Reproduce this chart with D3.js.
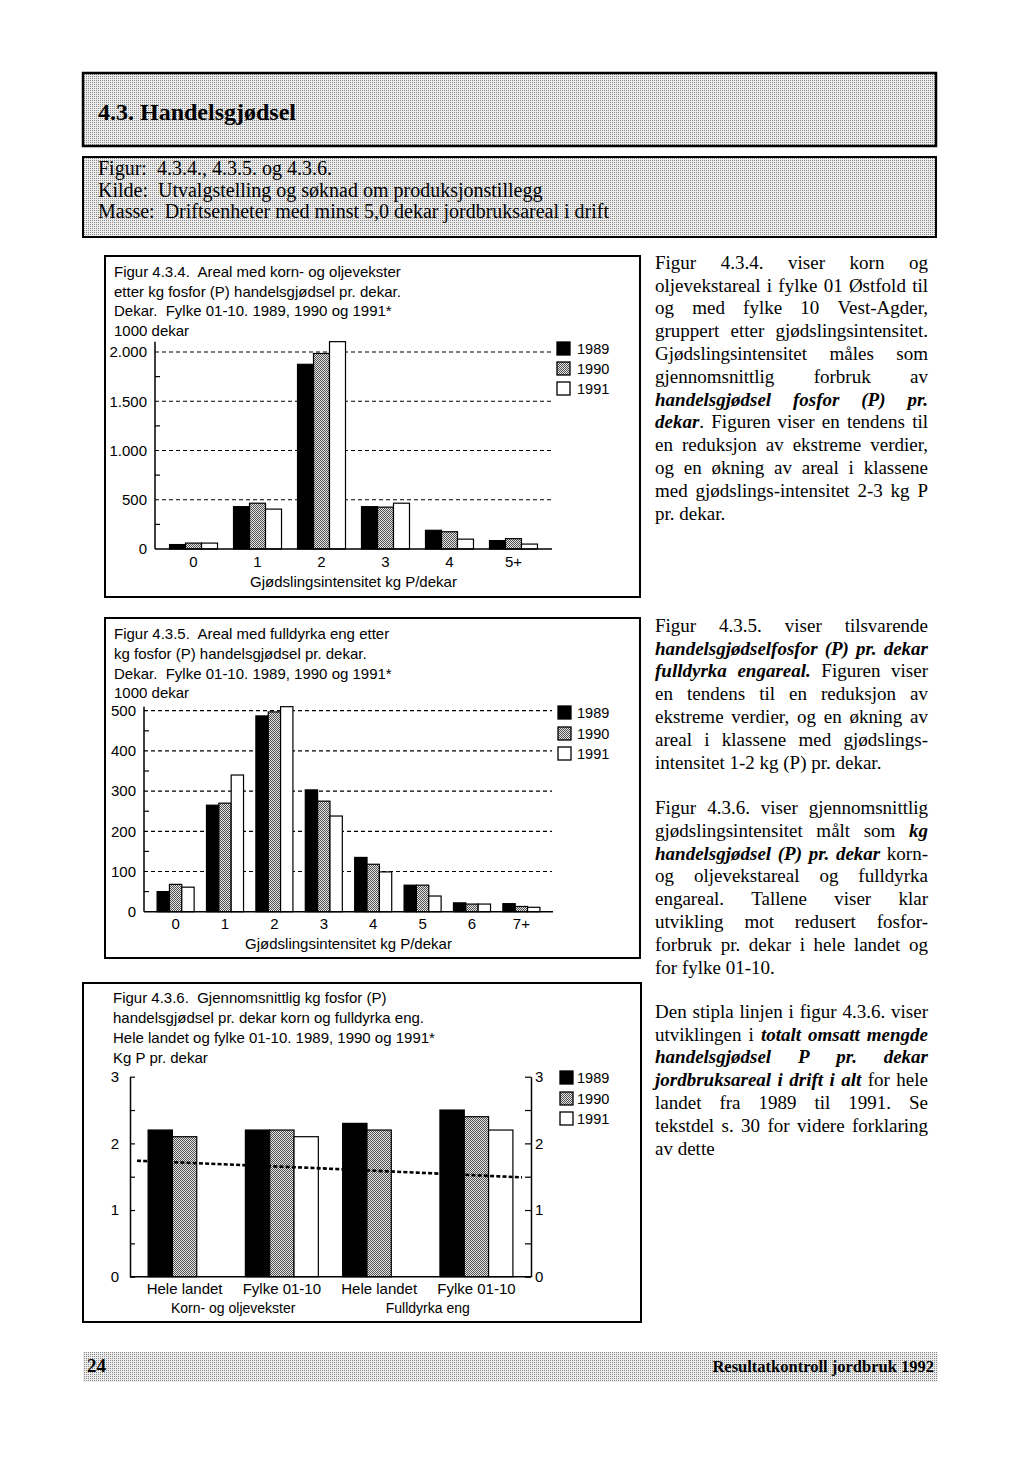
<!DOCTYPE html>
<html><head><meta charset="utf-8">
<script src="https://cdn.jsdelivr.net/npm/d3@7"></script>
<style>
body{margin:0;background:#fff}
svg{display:block}
.sans{font-family:"Liberation Sans",Arial,sans-serif}
.serif{font-family:"Liberation Serif","Times New Roman",serif}
</style>
</head><body>
<svg id="page" width="1024" height="1464"></svg>
<script>
// ---------------- DATA ----------------
const years = ["1989", "1990", "1991"];

// Figur 4.3.4 (1000 dekar), korn- og oljevekster
const cat1 = ["0", "1", "2", "3", "4", "5+"];
const fig1_1989 = [45, 430, 1875, 430, 190, 85];
const fig1_1990 = [60, 465, 1985, 425, 175, 105];
const fig1_1991 = [60, 405, 2105, 465, 100, 50];
const fig1Ticks = [0, 500, 1000, 1500, 2000];
const fig1TickLabels = ["0", "500", "1.000", "1.500", "2.000"];
const fig1Minor = [250, 750, 1250, 1750];

// Figur 4.3.5 (1000 dekar), fulldyrka eng
const cat2 = ["0", "1", "2", "3", "4", "5", "6", "7+"];
const fig2_1989 = [50, 265, 487, 303, 135, 66, 22, 20];
const fig2_1990 = [68, 270, 497, 275, 118, 66, 19, 13];
const fig2_1991 = [61, 340, 510, 238, 99, 39, 19, 11];
const fig2Ticks = [0, 100, 200, 300, 400, 500];
const fig2TickLabels = ["0", "100", "200", "300", "400", "500"];
const fig2Minor = [50, 150, 250, 350, 450];

// Figur 4.3.6 (kg P pr. dekar)
const cat3 = ["HL-korn", "F-korn", "HL-eng", "F-eng"];
const cat3Labels = ["Hele landet", "Fylke 01-10", "Hele landet", "Fylke 01-10"];
const cat3Groups = ["Korn- og oljevekster", "Fulldyrka eng"];
const fig3_1989 = [2.2, 2.2, 2.3, 2.5];
const fig3_1990 = [2.1, 2.2, 2.2, 2.4];
const fig3_1991 = [null, 2.1, null, 2.2];
const fig3Ticks = [0, 0.5, 1, 1.5, 2, 2.5, 3];
const fig3Line = [1.74, 1.62, 1.49]; // totalt omsatt P pr. dekar, 1989-1991

// ---------------- SETUP ----------------
const svg = d3.select("#page");
const defs = svg.append("defs");
function pat(id, bg, fg) {
  const p = defs.append("pattern").attr("id", id).attr("width", 2).attr("height", 2)
    .attr("patternUnits", "userSpaceOnUse");
  p.append("rect").attr("width", 2).attr("height", 2).attr("fill", bg);
  p.append("rect").attr("width", 1).attr("height", 1).attr("fill", fg);
  if (id === "barGray") p.append("rect").attr("x", 1).attr("y", 1).attr("width", 1).attr("height", 1).attr("fill", fg);
}
pat("barGray", "#e6e6e6", "#505050");
pat("boxGray", "#ececec", "#8a8a8a");
const fills = ["#000", "url(#barGray)", "#fff"];

// ---------------- HEADER ----------------
svg.append("rect").attr("x", 83).attr("y", 73).attr("width", 853).attr("height", 73)
  .attr("fill", "url(#boxGray)").attr("stroke", "#000").attr("stroke-width", 2.5);
svg.append("text").attr("class", "serif").attr("x", 98).attr("y", 120)
  .attr("font-size", 24).attr("font-weight", "bold").text("4.3. Handelsgjødsel");

svg.append("rect").attr("x", 83).attr("y", 157).attr("width", 853).attr("height", 80)
  .attr("fill", "url(#boxGray)").attr("stroke", "#000").attr("stroke-width", 2);
const hdrLines = ["Figur:  4.3.4., 4.3.5. og 4.3.6.",
  "Kilde:  Utvalgstelling og søknad om produksjonstillegg",
  "Masse:  Driftsenheter med minst 5,0 dekar jordbruksareal i drift"];
hdrLines.forEach((t, i) => svg.append("text").attr("class", "serif").attr("x", 98)
  .attr("y", 175 + i * 21.5).attr("font-size", 20).attr("xml:space", "preserve")
  .style("white-space", "pre").text(t));

// ---------------- FOOTER ----------------
svg.append("rect").attr("x", 83).attr("y", 1352).attr("width", 855).attr("height", 30)
  .attr("fill", "url(#boxGray)");
svg.append("text").attr("class", "serif").attr("x", 87).attr("y", 1372).attr("font-size", 19)
  .attr("font-weight", "bold").text("24");
svg.append("text").attr("class", "serif").attr("x", 934).attr("y", 1372).attr("font-size", 16.5)
  .attr("font-weight", "bold").attr("text-anchor", "end")
  .text("Resultatkontroll jordbruk 1992");

// ---------------- FRAMES ----------------
function frame(x0, y0, x1, y1) {
  svg.append("rect").attr("x", x0).attr("y", y0).attr("width", x1 - x0).attr("height", y1 - y0)
    .attr("fill", "none").attr("stroke", "#000").attr("stroke-width", 2);
}
frame(105, 256, 640, 597);
frame(105, 618, 640, 958);
frame(83, 983, 641, 1322);

// ---------------- HELPERS ----------------
function titleLines(lines, x, ys) {
  lines.forEach((t, i) => svg.append("text").attr("class", "sans").attr("x", x).attr("y", ys[i])
    .attr("font-size", 15).attr("xml:space", "preserve").style("white-space", "pre").text(t));
}
function legend(x, tops, tx) {
  years.forEach((yr, i) => {
    svg.append("rect").attr("x", x).attr("y", tops[i]).attr("width", 13).attr("height", 13)
      .attr("fill", fills[i]).attr("stroke", "#000").attr("stroke-width", 1.3);
    svg.append("text").attr("class", "sans").attr("x", tx).attr("y", tops[i] + 11.5)
      .attr("font-size", 14.5).text(yr);
  });
}

function histo(cfg) {
  const g = svg.append("g");
  const x = d3.scaleBand().domain(cfg.cats).range([cfg.ax, cfg.xe])
    .paddingInner(0.25).paddingOuter(cfg.po);
  const xs = d3.scaleBand().domain(years).range([0, x.bandwidth()]);
  const y = d3.scaleLinear().domain([0, cfg.ref]).range([cfg.y0, cfg.yRef]);
  const seriesArr = cfg.series;
  const ymax = d3.max(seriesArr.flat());
  // grid
  g.selectAll(".grid").data(cfg.ticks.filter(d => d > 0)).join("line")
    .attr("x1", cfg.ax).attr("x2", cfg.xe - 1).attr("y1", d => y(d)).attr("y2", d => y(d))
    .attr("stroke", "#000").attr("stroke-width", 1.2).attr("stroke-dasharray", "4,3");
  // bars
  years.forEach((yr, si) => {
    g.selectAll(".b" + si).data(cfg.cats.map((c, i) => ({ c, v: seriesArr[si][i] }))).join("rect")
      .attr("x", d => x(d.c) + xs(yr)).attr("width", xs.bandwidth())
      .attr("y", d => y(d.v)).attr("height", d => y(0) - y(d.v))
      .attr("fill", fills[si]).attr("stroke", "#000").attr("stroke-width", 1.2);
  });
  // spine + baseline
  g.append("line").attr("x1", cfg.ax).attr("x2", cfg.ax).attr("y1", y(0)).attr("y2", y(ymax))
    .attr("stroke", "#000").attr("stroke-width", 1.5);
  g.append("line").attr("x1", cfg.ax).attr("x2", cfg.xe).attr("y1", y(0)).attr("y2", y(0))
    .attr("stroke", "#000").attr("stroke-width", 1.5);
  g.selectAll(".minor").data(cfg.minor).join("line")
    .attr("x1", cfg.ax).attr("x2", cfg.ax + 5).attr("y1", d => y(d)).attr("y2", d => y(d))
    .attr("stroke", "#000").attr("stroke-width", 1.2);
  // y labels
  const ya = g.append("g").attr("transform", `translate(${cfg.ax},0)`)
    .call(d3.axisLeft(y).tickValues(cfg.ticks).tickFormat((d, i) => cfg.tickLabels[i]).tickSize(0).tickPadding(8));
  ya.select(".domain").remove();
  ya.selectAll("text").attr("font-family", "Liberation Sans, Arial, sans-serif").attr("font-size", 15).attr("fill", "#000");
  // x labels
  const xa = g.append("g").attr("transform", `translate(0,${cfg.y0})`)
    .call(d3.axisBottom(x).tickSize(0).tickPadding(7));
  xa.select(".domain").remove();
  xa.selectAll("text").attr("font-family", "Liberation Sans, Arial, sans-serif").attr("font-size", 15).attr("fill", "#000");
  g.append("text").attr("class", "sans").attr("x", (cfg.ax + cfg.xe) / 2).attr("y", cfg.titleY)
    .attr("text-anchor", "middle").attr("font-size", 15).text("Gjødslingsintensitet kg P/dekar");
}

// ---------------- FIGUR 4.3.4 ----------------
titleLines(["Figur 4.3.4.  Areal med korn- og oljevekster",
  "etter kg fosfor (P) handelsgjødsel pr. dekar.",
  "Dekar.  Fylke 01-10. 1989, 1990 og 1991*",
  "1000 dekar"], 114, [276.7, 296.5, 316, 335.5]);
histo({ cats: cat1, series: [fig1_1989, fig1_1990, fig1_1991], ax: 155, xe: 552, po: 0.227,
  y0: 549, ref: 2000, yRef: 352, ticks: fig1Ticks, tickLabels: fig1TickLabels, minor: fig1Minor, titleY: 587 });
legend(557, [342, 362, 382], 577);

// ---------------- FIGUR 4.3.5 ----------------
titleLines(["Figur 4.3.5.  Areal med fulldyrka eng etter",
  "kg fosfor (P) handelsgjødsel pr. dekar.",
  "Dekar.  Fylke 01-10. 1989, 1990 og 1991*",
  "1000 dekar"], 114, [639, 659, 678.5, 698]);
histo({ cats: cat2, series: [fig2_1989, fig2_1990, fig2_1991], ax: 144, xe: 553, po: 0.265,
  y0: 911.7, ref: 500, yRef: 710.7, ticks: fig2Ticks, tickLabels: fig2TickLabels, minor: fig2Minor, titleY: 948.5 });
legend(558, [706, 727, 747], 577);

// ---------------- FIGUR 4.3.6 ----------------
titleLines(["Figur 4.3.6.  Gjennomsnittlig kg fosfor (P)",
  "handelsgjødsel pr. dekar korn og fulldyrka eng.",
  "Hele landet og fylke 01-10. 1989, 1990 og 1991*",
  "Kg P pr. dekar"], 113, [1003, 1023, 1043, 1063]);
(function () {
  const ax = 130, axR = 531, y0 = 1276.7;
  const g = svg.append("g");
  const x = d3.scaleBand().domain(cat3).range([ax, axR]).paddingInner(0.25).paddingOuter(0.186);
  const xs = d3.scaleBand().domain(years).range([0, x.bandwidth()]);
  const y = d3.scaleLinear().domain([0, 3]).range([y0, 1076.7]);
  const ser = [fig3_1989, fig3_1990, fig3_1991];
  years.forEach((yr, si) => {
    g.selectAll(".b" + si).data(cat3.map((c, i) => ({ c, v: ser[si][i] })).filter(d => d.v != null))
      .join("rect")
      .attr("x", d => x(d.c) + xs(yr)).attr("width", xs.bandwidth())
      .attr("y", d => y(d.v)).attr("height", d => y(0) - y(d.v))
      .attr("fill", fills[si]).attr("stroke", "#000").attr("stroke-width", 1.2);
  });
  // dotted line
  const xl = d3.scalePoint().domain(years).range([137, 522]);
  g.append("path").datum(fig3Line)
    .attr("d", d3.line().x((d, i) => xl(years[i])).y(d => y(d)))
    .attr("fill", "none").attr("stroke", "#000").attr("stroke-width", 2.6).attr("stroke-dasharray", "4,2.2");
  g.append("line").attr("x1", ax).attr("x2", axR).attr("y1", y0).attr("y2", y0).attr("stroke", "#000").attr("stroke-width", 1.5);
  const fmt = d => Number.isInteger(d) ? d : "";
  const la = g.append("g").attr("transform", `translate(${ax},0)`)
    .call(d3.axisLeft(y).tickValues(fig3Ticks).tickFormat(fmt).tickSizeInner(-5).tickSizeOuter(0).tickPadding(11));
  const ra = g.append("g").attr("transform", `translate(${axR},0)`)
    .call(d3.axisRight(y).tickValues(fig3Ticks).tickFormat(fmt).tickSizeInner(-6).tickSizeOuter(0).tickPadding(4));
  [la, ra].forEach(a => {
    a.select(".domain").attr("stroke-width", 1.5);
    a.selectAll("line").attr("stroke-width", 1.2);
    a.selectAll("text").attr("font-family", "Liberation Sans, Arial, sans-serif").attr("font-size", 15).attr("fill", "#000");
  });
  const xa = g.append("g").attr("transform", `translate(0,${y0})`)
    .call(d3.axisBottom(x).tickFormat((d, i) => cat3Labels[i]).tickSize(0).tickPadding(7));
  xa.select(".domain").remove();
  xa.selectAll("text").attr("font-family", "Liberation Sans, Arial, sans-serif").attr("font-size", 15).attr("fill", "#000");
  cat3Groups.forEach((t, i) => {
    const cx = (x(cat3[2 * i]) + x(cat3[2 * i + 1]) + x.bandwidth()) / 2;
    g.append("text").attr("class", "sans").attr("x", cx).attr("y", 1313).attr("text-anchor", "middle")
      .attr("font-size", 14).text(t);
  });
  legend(560, [1071, 1092, 1112], 577);
})();

// ---------------- RIGHT COLUMN TEXT ----------------
const colX = 655, colW = 273, lh = 22.8;
function tokens(segs) {
  const out = []; let cur = null;
  segs.forEach(([t, s]) => {
    t.split(/( +)/).forEach(p => {
      if (p === "") return;
      if (/^ +$/.test(p)) { cur = null; return; }
      if (!cur) { cur = []; out.push(cur); }
      cur.push({ t: p, s });
    });
  });
  return out;
}
function para(lines, yc) {
  lines.forEach((segs, i) => {
    const ws = tokens(segs);
    const y = yc + i * lh + 6;
    const els = ws.map(w => {
      const t = svg.append("text").attr("class", "serif").attr("y", y).attr("font-size", 19);
      w.forEach(p => t.append("tspan").text(p.t)
        .attr("font-weight", p.s === "b" ? "bold" : null).attr("font-style", p.s === "b" ? "italic" : null));
      return t;
    });
    const wd = els.map(e => e.node().getComputedTextLength());
    const last = i === lines.length - 1;
    const gap = (last || ws.length < 2) ? 4.75 : (colW - d3.sum(wd)) / (ws.length - 1);
    let xx = colX;
    els.forEach((e, j) => { e.attr("x", xx); xx += wd[j] + gap; });
  });
}
const R = t => [t, "r"], B = t => [t, "b"];
para([
  [R("Figur 4.3.4. viser korn og")],
  [R("oljevekstareal i fylke 01 Østfold til")],
  [R("og med fylke 10 Vest-Agder,")],
  [R("gruppert etter gjødslingsintensitet.")],
  [R("Gjødslingsintensitet måles som")],
  [R("gjennomsnittlig forbruk av")],
  [B("handelsgjødsel fosfor (P) pr.")],
  [B("dekar"), R(". Figuren viser en tendens til")],
  [R("en reduksjon av ekstreme verdier,")],
  [R("og en økning av areal i klassene")],
  [R("med gjødslings-intensitet 2-3 kg P")],
  [R("pr. dekar.")]
], 262.7);
para([
  [R("Figur 4.3.5. viser tilsvarende")],
  [B("handelsgjødselfosfor (P) pr. dekar")],
  [B("fulldyrka engareal."), R(" Figuren viser")],
  [R("en tendens til en reduksjon av")],
  [R("ekstreme verdier, og en økning av")],
  [R("areal i klassene med gjødslings-")],
  [R("intensitet 1-2 kg (P) pr. dekar.")]
], 625.8);
para([
  [R("Figur 4.3.6. viser gjennomsnittlig")],
  [R("gjødslingsintensitet målt som "), B("kg")],
  [B("handelsgjødsel (P) pr. dekar"), R(" korn-")],
  [R("og oljevekstareal og fulldyrka")],
  [R("engareal. Tallene viser klar")],
  [R("utvikling mot redusert fosfor-")],
  [R("forbruk pr. dekar i hele landet og")],
  [R("for fylke 01-10.")]
], 808);
para([
  [R("Den stipla linjen i figur 4.3.6. viser")],
  [R("utviklingen i "), B("totalt omsatt mengde")],
  [B("handelsgjødsel P pr. dekar")],
  [B("jordbruksareal i drift i alt"), R(" for hele")],
  [R("landet fra 1989 til 1991. Se")],
  [R("tekstdel s. 30 for videre forklaring")],
  [R("av dette")]
], 1011.8);
</script>
</body></html>
